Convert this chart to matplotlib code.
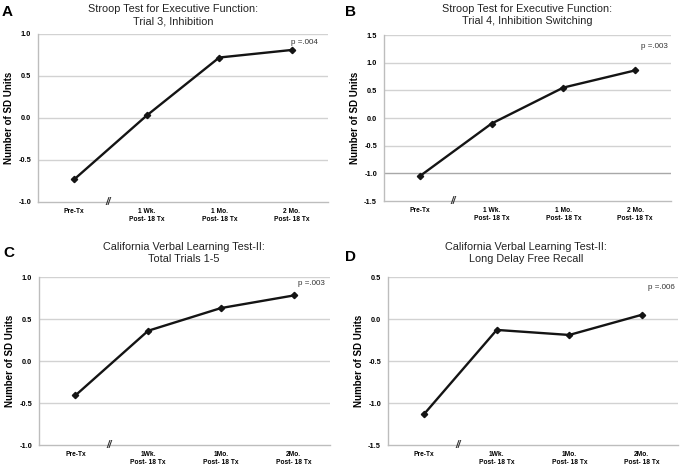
import numpy as np
import matplotlib
matplotlib.use("Agg")
import matplotlib.pyplot as plt

plt.rcParams['font.family'] = ['Liberation Sans', 'DejaVu Sans']

# data
timepoints = ["Pre-Tx", "1 Wk.\nPost- 18 Tx", "1 Mo.\nPost- 18 Tx", "2 Mo.\nPost- 18 Tx"]
timepoints_cvlt = ["Pre-Tx", "1Wk.\nPost- 18 Tx", "1Mo.\nPost- 18 Tx", "2Mo.\nPost- 18 Tx"]

stroop_inhib = [-0.73, 0.03, 0.72, 0.81]
stroop_switch = [-1.05, -0.10, 0.55, 0.86]
cvlt_total = [-0.41, 0.36, 0.63, 0.78]
cvlt_delay = [-1.13, -0.13, -0.19, 0.05]

panel_letters = ["A", "B", "C", "D"]
titles = ["Stroop Test for Executive Function:\nTrial 3, Inhibition",
          "Stroop Test for Executive Function:\nTrial 4, Inhibition Switching",
          "California Verbal Learning Test-II:\nTotal Trials 1-5",
          "California Verbal Learning Test-II:\nLong Delay Free Recall"]
p_values = ["p =.004", "p =.003", "p =.003", "p =.006"]
y_ranges = [(-1.0, 1.0), (-1.5, 1.5), (-1.0, 1.0), (-1.5, 0.5)]

W, H = 680, 469
fig = plt.figure(figsize=(W / 100, H / 100), dpi=100)

# axes boxes in pixels: left, right, top, bottom
boxes = [(38, 328, 34, 202), (384, 671, 35, 201),
         (39, 330, 277, 445), (388, 678, 277, 445)]
title_pos = [(173, 15), (527, 15), (184, 253), (526, 253)]
letter_pos = [(2, 12), (345, 12), (3, 253), (345, 257)]
p_pos = [(3.36, 0.90), (3.46, 1.30), (3.43, 0.92), (3.46, 0.38)]

series = [stroop_inhib, stroop_switch, cvlt_total, cvlt_delay]
labels = [timepoints, timepoints, timepoints_cvlt, timepoints_cvlt]

for i in range(4):
    l, r, t, b = boxes[i]
    ax = fig.add_axes([l / W, 1 - b / H, (r - l) / W, (b - t) / H])
    lo, hi = y_ranges[i]
    ax.set_xlim(-0.5, 3.5)
    ax.set_ylim(lo, hi)
    ticks = np.arange(lo, hi + 0.01, 0.5)
    ax.set_yticks(ticks)
    ax.set_yticklabels([f"{v:.1f}" for v in ticks], fontsize=5.3, fontweight='bold')
    ax.set_xticks(range(4))
    ax.set_xticklabels(labels[i], fontsize=4.8, fontweight='bold')
    ax.tick_params(length=0, pad=4)
    ax.tick_params(axis='y', pad=5)
    for v in ticks[1:]:
        c = '#a8a8a8' if (i == 1 and abs(v + 1.0) < 1e-6) else '#d2d2d2'
        ax.axhline(v, color=c, lw=1.0, zorder=0)
    for s in ['top', 'right']:
        ax.spines[s].set_visible(False)
    ax.spines['left'].set_color('#bdbdbd')
    ax.spines['bottom'].set_color('#bdbdbd')
    ax.spines['left'].set_linewidth(1.0)
    ax.spines['bottom'].set_linewidth(1.0)

    ax.plot(range(4), series[i], color='#141414', lw=1.7, marker='D',
            markersize=3.2, zorder=3)

    px, py = p_pos[i]
    ax.text(px, py, p_values[i], ha='right', va='center',
            fontsize=5.8, color='#333333')
    ax.text(0.47, lo, "//", ha='center', va='center', fontsize=7,
            style='italic', fontweight='bold', color='#333333', zorder=4,
            clip_on=False)
    ax.set_ylabel("Number of SD Units", fontsize=7, fontweight='bold', labelpad=3)

    tx, ty = title_pos[i]
    fig.text(tx / W, 1 - ty / H, titles[i], ha='center', va='center',
             fontsize=7.8, color='#222222', linespacing=1.25)
    lx, ly = letter_pos[i]
    fig.text(lx / W, 1 - ly / H, panel_letters[i], ha='left', va='center',
             fontsize=11, fontweight='bold')

fig.savefig("out.png", dpi=100)
